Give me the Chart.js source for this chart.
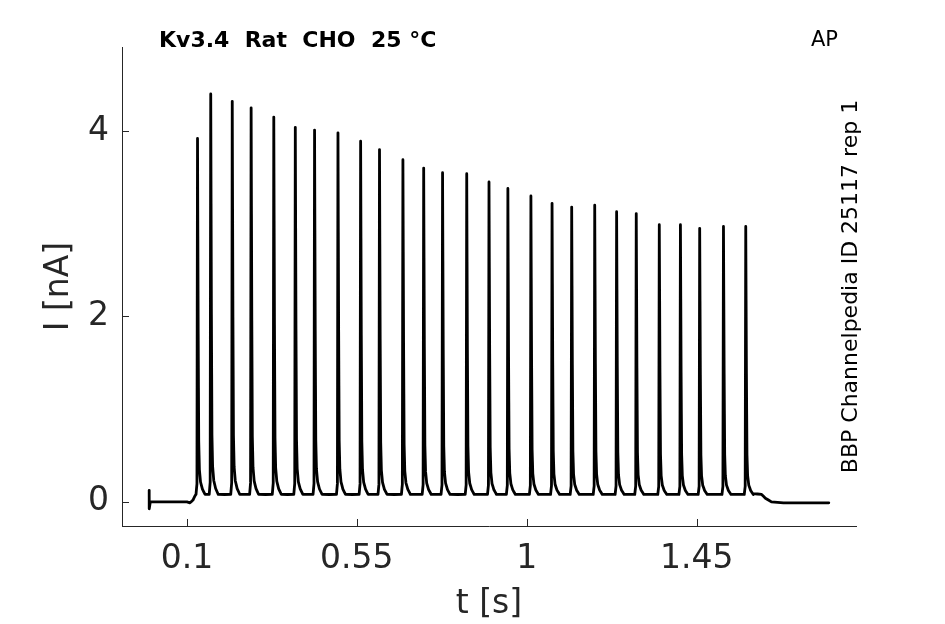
<!DOCTYPE html>
<html>
<head>
<meta charset="utf-8">
<script src="https://cdn.jsdelivr.net/npm/chart.js@4"></script>
<style>
  html, body { margin: 0; padding: 0; background: #fff; }
  #wrap { width: 945px; height: 624px; }
</style>
</head>
<body>
<div id="wrap"><canvas id="traceChart"></canvas></div>
<script>
// spike times (s) and peak currents (nA)
const spikeTimes = [0.128, 0.163, 0.220, 0.270, 0.330, 0.387, 0.438, 0.500, 0.560, 0.610,
                    0.672, 0.727, 0.777, 0.841, 0.900, 0.950, 1.011, 1.067, 1.119, 1.180,
                    1.238, 1.290, 1.351, 1.407, 1.458, 1.521, 1.580];
const spikePeaks = [3.92, 4.40, 4.32, 4.25, 4.15, 4.04, 4.01, 3.98, 3.89, 3.80,
                    3.69, 3.60, 3.55, 3.54, 3.45, 3.38, 3.30, 3.22, 3.18, 3.20,
                    3.13, 3.11, 2.99, 2.99, 2.95, 2.97, 2.97];
const spikeBase = 0.08;

// one spike waveform: time offset from peak, fraction of height above base
const shapeDt   = [-0.004, -0.0015, 0, 0.0018, 0.0032, 0.005, 0.008, 0.013, 0.02];
const shapeFrac = [0, 0.03, 1, 0.45, 0.15, 0.07, 0.035, 0.015, 0];

// trace before the first spike and after the last one
const preTimes   = [0, 0.0001, 0.003, 0.100, 0.108, 0.116, 0.122];
const preValues  = [0.125, -0.075, 0, 0, -0.01, 0.02, 0.07];
const postTimes  = [1.600, 1.622, 1.632, 1.648, 1.680, 1.800];
const postValues = [0.09, 0.08, 0.04, 0.0, -0.01, -0.01];

const xTickValues = [0.1, 0.55, 1, 1.45];
const xTickLabels = ['0.1', '0.55', '1', '1.45'];
const yTickValues = [0, 2, 4];

// build the trace
const trace = [];
preTimes.forEach((t, i) => trace.push({x: t, y: preValues[i]}));
spikeTimes.forEach((t, k) => {
    shapeDt.forEach((dt, j) => {
        trace.push({x: t + dt, y: spikeBase + shapeFrac[j] * (spikePeaks[k] - spikeBase)});
    });
});
postTimes.forEach((t, i) => trace.push({x: t, y: postValues[i]}));

const axisColor = '#262626';
const fontFamily = '"DejaVu Sans", sans-serif';

// inward tick marks + the text around the axes
const extras = {
    id: 'extras',
    afterDraw(chart) {
        const ctx = chart.ctx;
        const xs = chart.scales.x, ys = chart.scales.y;
        const area = chart.chartArea;
        ctx.save();
        ctx.strokeStyle = axisColor;
        ctx.lineWidth = 1;
        ctx.beginPath();
        xTickValues.forEach(v => {
            const px = Math.round(xs.getPixelForValue(v)) + 0.5;
            ctx.moveTo(px, area.bottom);
            ctx.lineTo(px, area.bottom - 7);
        });
        yTickValues.forEach(v => {
            const py = Math.round(ys.getPixelForValue(v)) + 0.5;
            ctx.moveTo(area.left, py);
            ctx.lineTo(area.left + 7, py);
        });
        ctx.stroke();

        ctx.fillStyle = '#000';
        ctx.textBaseline = 'alphabetic';
        ctx.textAlign = 'left';
        ctx.font = 'bold 22px ' + fontFamily;
        ctx.fillText('Kv3.4  Rat  CHO  25 °C', 159, 47);
        ctx.font = '21px ' + fontFamily;
        ctx.fillText('AP', 811, 46);

        ctx.font = '22px ' + fontFamily;
        ctx.translate(851, (area.top + area.bottom) / 2);
        ctx.rotate(-Math.PI / 2);
        ctx.textAlign = 'center';
        ctx.textBaseline = 'middle';
        ctx.fillText('BBP Channelpedia ID 25117 rep 1', 0, 0);
        ctx.restore();
    }
};

const ctx = document.getElementById('traceChart').getContext('2d');
new Chart(ctx, {
    type: 'line',
    data: {
        datasets: [{
            data: trace,
            borderColor: '#000',
            borderWidth: 2.8,
            borderJoinStyle: 'round',
            borderCapStyle: 'round',
            pointRadius: 0,
            tension: 0.0001,   // non-zero so every point is drawn (no per-pixel fast path)
            fill: false
        }]
    },
    options: {
        responsive: true,
        maintainAspectRatio: false,
        animation: false,
        layout: { padding: { left: 0, right: 89, top: 47, bottom: 0 } },
        plugins: { legend: { display: false }, tooltip: { enabled: false } },
        scales: {
            x: {
                type: 'linear',
                min: -0.072,
                max: 1.872,
                afterBuildTicks: scale => { scale.ticks = xTickValues.map(v => ({value: v})); },
                afterFit: scale => { scale.height = 98; },
                grid: { display: false, drawTicks: false },
                border: { display: true, color: axisColor, width: 1 },
                ticks: {
                    color: axisColor,
                    padding: 14,
                    maxRotation: 0,
                    font: { family: fontFamily, size: 33 },
                    callback: (v) => xTickLabels[xTickValues.indexOf(v)]
                },
                title: {
                    display: true,
                    text: 't [s]',
                    color: axisColor,
                    padding: { top: 0, bottom: 0 },
                    font: { family: fontFamily, size: 33 }
                }
            },
            y: {
                min: -0.26,
                max: 4.906,
                afterBuildTicks: scale => { scale.ticks = yTickValues.map(v => ({value: v})); },
                afterFit: scale => { scale.width = 122; },
                grid: { display: false, drawTicks: false },
                border: { display: true, color: axisColor, width: 1 },
                ticks: {
                    color: axisColor,
                    padding: 13,
                    font: { family: fontFamily, size: 33 }
                },
                title: {
                    display: true,
                    text: 'I [nA]',
                    color: axisColor,
                    padding: { top: 40, bottom: 0 },
                    font: { family: fontFamily, size: 33 }
                }
            }
        }
    },
    plugins: [extras]
});
</script>
</body>
</html>
